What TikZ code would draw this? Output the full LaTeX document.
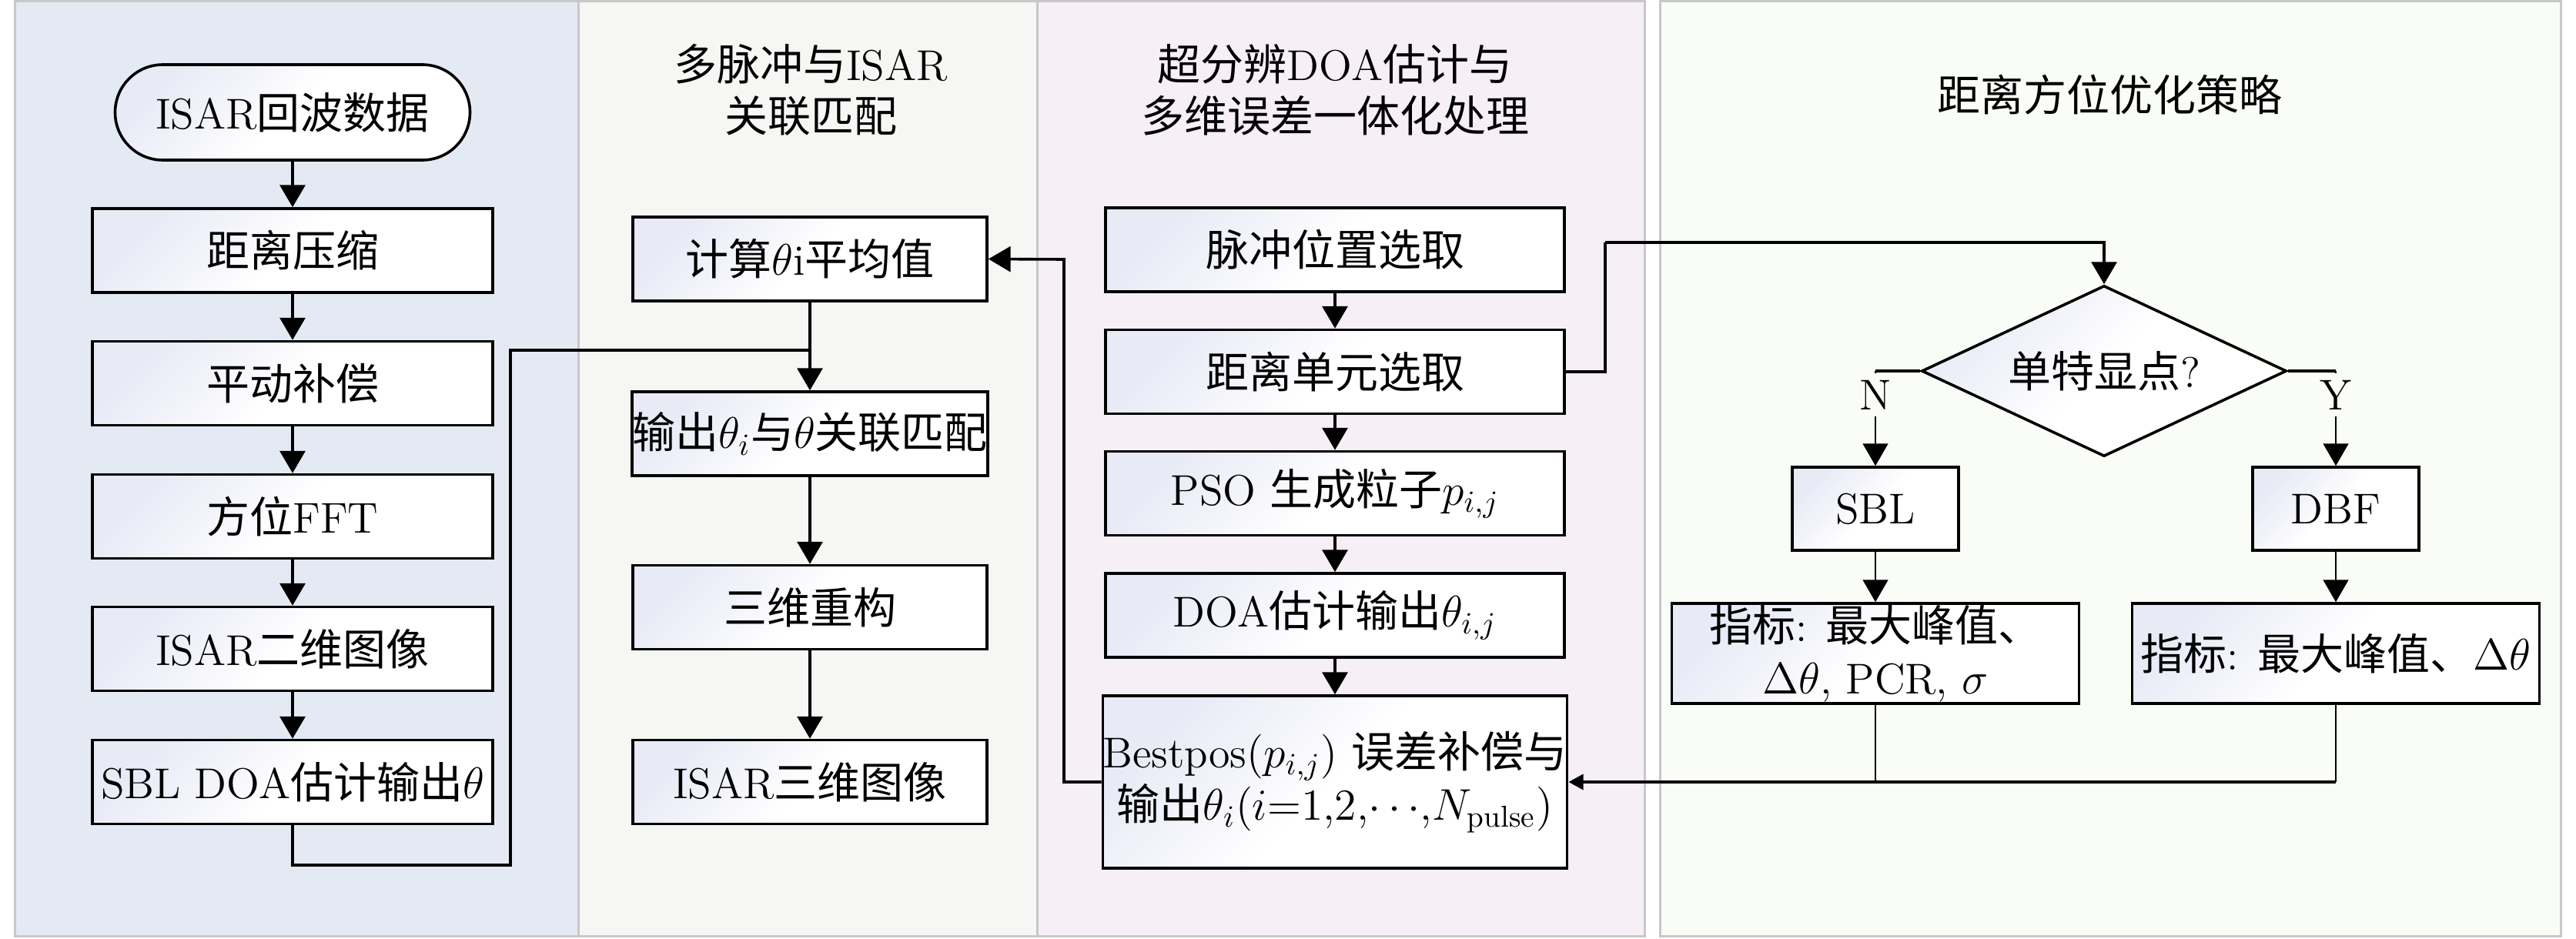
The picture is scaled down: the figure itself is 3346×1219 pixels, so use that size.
\documentclass[tikz,border=0pt]{standalone}
\usepackage{fontspec}
\newfontfamily\cjkf{Noto Sans CJK SC}
\usetikzlibrary{arrows.meta,shapes.geometric,calc}
\newcommand\cz[1]{{\cjkf #1}}
\definecolor{pa}{RGB}{228,234,244}
\definecolor{pb}{RGB}{246,246,244}
\definecolor{pc}{RGB}{246,239,246}
\definecolor{pd}{RGB}{250,252,247}
\definecolor{pborder}{RGB}{200,200,200}
\definecolor{boxl}{RGB}{232,234,246}
\begin{document}
\begin{tikzpicture}[x=0.25pt,y=-0.25pt,
  txt/.style={font=\fontsize{14pt}{17pt}\selectfont, align=center, inner sep=0pt},
  box/.style={txt, draw=black, line width=0.9pt, left color=boxl, right color=white, middle color=white, shading angle=45, minimum height=27.25pt},
  boxa/.style={box, minimum width=130pt},
  boxb/.style={box, minimum width=115pt},
  boxc/.style={box, minimum width=149pt},
  term/.style={box, rounded corners=15.5pt, minimum width=115.25pt, minimum height=31pt},
  title/.style={txt, font=\fontsize{14pt}{16.75pt}\selectfont},
  arr/.style={line width=0.9pt, -{Triangle[length=7.2pt,width=8.2pt]}},
  arrs/.style={line width=0.9pt, -{Triangle[length=4.8pt,width=5pt]}},
  ln/.style={line width=0.9pt},
  thin/.style={line width=0.45pt},
  lab/.style={txt, inner sep=2.2pt, fill=pd}
]
\useasboundingbox (0,0) rectangle (3346,1219);
% panels
\fill[pa] (19.5,1.5) rectangle (751.5,1216.5);
\fill[pb] (751.5,1.5) rectangle (1347,1216.5);
\fill[pc] (1347,1.5) rectangle (2136.5,1216.5);
\fill[pd] (2156.5,1.5) rectangle (3326.5,1216.5);
\draw[pborder, line width=0.75pt] (19.5,1.5) rectangle (751.5,1216.5);
\draw[pborder, line width=0.75pt] (751.5,1.5) rectangle (1347,1216.5);
\draw[pborder, line width=0.75pt] (1347,1.5) rectangle (2136.5,1216.5);
\draw[pborder, line width=0.75pt] (2156.5,1.5) rectangle (3326.5,1216.5);

% panel 1
\node[term] (s) at (380,146) {ISAR\cz{回波数据}};
\node[boxa] (b1) at (380,325.5) {\cz{距离压缩}};
\node[boxa] (b2) at (380,498) {\cz{平动补偿}};
\node[boxa] (b3) at (380,671) {\cz{方位}FFT};
\node[boxa] (b4) at (380,843) {ISAR\cz{二维图像}};
\node[boxa] (b5) at (380,1016) {SBL DOA\cz{估计输出}$\theta$};

% panel 2
\node[title] (t2) at (1053,116.5) {\cz{多脉冲与}ISAR\\\cz{关联匹配}};
\node[boxb] (c1) at (1052,336.5) {\cz{计算}$\theta$i\cz{平均值}};
\node[boxb] (c2) at (1052,563.5) {\cz{输出}$\theta_i$\cz{与}$\theta$\cz{关联匹配}};
\node[boxb] (c3) at (1052,789) {\cz{三维重构}};
\node[boxb] (c4) at (1052,1016) {ISAR\cz{三维图像}};

% panel 3
\node[title] (t3) at (1734,116.5) {\cz{超分辨}DOA\cz{估计与}\\\cz{多维误差一体化处理}};
\node[boxc] (d1) at (1734,324.5) {\cz{脉冲位置选取}};
\node[boxc] (d2) at (1734,483) {\cz{距离单元选取}};
\node[boxc] (d3) at (1734,641) {PSO \cz{生成粒子}$p_{i,j}$};
\node[boxc] (d4) at (1734,799.5) {DOA\cz{估计输出}$\theta_{i,j}$};
\node[boxc, minimum height=56pt] (d5) at (1734,1016) {Bestpos$(p_{i,j})$ \cz{误差补偿与}\\\cz{输出}$\theta_i(i{=}1{,}2{,}{\cdots}{,}N_{\mathrm{pulse}})$};

% panel 4
\node[title] (t4) at (2740,123) {\cz{距离方位优化策略}};
\node[box, diamond, aspect=2.135, minimum width=118.5pt, minimum height=55.5pt] (dia) at (2733,482) {\cz{单特显点}?};
\node[box, minimum width=54pt, minimum height=27pt] (sbl) at (2436,661) {SBL};
\node[box, minimum width=54pt, minimum height=27pt] (dbf) at (3034,661) {DBF};
\node[box, minimum width=132.25pt, minimum height=32.5pt] (i1) at (2436,849) {\cz{指标}: \cz{最大峰值、}\\$\Delta\theta$, PCR, $\sigma$};
\node[box, minimum width=132.25pt, minimum height=32.5pt] (i2) at (3034,849) {\cz{指标}: \cz{最大峰值、}$\Delta\theta$};

% connectors panel 1
\draw[arr] (s) -- (b1);
\draw[arr] (b1) -- (b2);
\draw[arr] (b2) -- (b3);
\draw[arr] (b3) -- (b4);
\draw[arr] (b4) -- (b5);
\coordinate (k3) at (663,1124);
\coordinate (j1) at (1052,455);
\draw[ln] (b5.south) |- (k3) |- (j1);

% connectors panel 2
\draw[arr] (c1) -- (c2);
\draw[arr] (c2) -- (c3);
\draw[arr] (c3) -- (c4);

% connectors panel 3
\draw[arr] (d1) -- (d2);
\draw[arr] (d2) -- (d3);
\draw[arr] (d3) -- (d4);
\draw[arr] (d4) -- (d5);
\coordinate (k2) at (1382,337);
\draw[arr] (d5.west) -| (k2) -- (c1.east);
\coordinate (k1) at (2085,315);
\draw[ln] (d2.east) -| (k1);
\draw[arr] (k1) -| (dia.north);

% connectors panel 4
\coordinate (nk) at (2436,482);
\coordinate (yk) at (3034,482);
\draw[ln] (dia.west) -- (nk);
\draw[ln] (dia.east) -- (yk);
\draw[thin, -{Triangle[length=7.2pt,width=8.2pt]}] (nk) -- (sbl.north);
\draw[thin, -{Triangle[length=7.2pt,width=8.2pt]}] (yk) -- (dbf.north);
\draw[thin, -{Triangle[length=7.2pt,width=8.2pt]}] (sbl) -- (i1);
\draw[thin, -{Triangle[length=7.2pt,width=8.2pt]}] (dbf) -- (i2);
\coordinate (m1) at (2436,1016);
\coordinate (m2) at (3034,1016);
\draw[thin] (i1.south) -- (m1);
\draw[thin] (i2.south) -- (m2);
\draw[ln] (m2) -- (m1);
\draw[arrs] (m1) -- (d5.east);
\node[lab] (nl) at (2436,513) {N};
\node[lab] (yl) at (3034,513) {Y};
\end{tikzpicture}
\end{document}
